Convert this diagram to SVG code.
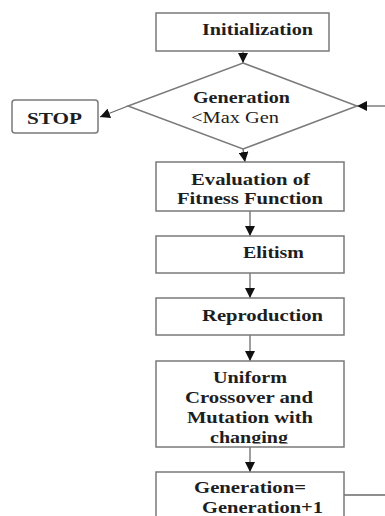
<svg xmlns="http://www.w3.org/2000/svg" width="385" height="516" viewBox="0 0 385 516">
<style>
.box{fill:#fff;stroke:#7a7a7a;stroke-width:1.5}
.ln{fill:none;stroke:#6a6a6a;stroke-width:1.3}
.t{font-family:"Liberation Serif","Times New Roman",serif;font-weight:bold;font-size:16.5px;fill:#1e1e1e}
.r{font-family:"Liberation Serif","Times New Roman",serif;font-size:16.5px;fill:#1e1e1e}
</style>
<defs>
<marker id="ah" viewBox="0 0 10 10" refX="10" refY="5" markerWidth="10" markerHeight="10" markerUnits="userSpaceOnUse" orient="auto">
<path d="M0,0 L10,5 L0,10 Z" fill="#111"/>
</marker>
<clipPath id="cc"><rect x="150" y="360" width="200" height="83.5"/></clipPath>
</defs>
<g id="connectors">
<line class="ln" x1="243" y1="51" x2="243" y2="63" marker-end="url(#ah)"/>
<line class="ln" x1="128" y1="106" x2="100" y2="117" marker-end="url(#ah)"/>
<line class="ln" x1="385" y1="106" x2="357" y2="106" marker-end="url(#ah)"/>
<line class="ln" x1="243" y1="149" x2="245" y2="162" marker-end="url(#ah)"/>
<line class="ln" x1="250" y1="211" x2="250" y2="236" marker-end="url(#ah)"/>
<line class="ln" x1="250" y1="273" x2="250" y2="298" marker-end="url(#ah)"/>
<line class="ln" x1="250" y1="335" x2="250" y2="361" marker-end="url(#ah)"/>
<line class="ln" x1="250" y1="447" x2="250" y2="472" marker-end="url(#ah)"/>
<line class="ln" x1="344" y1="495" x2="385" y2="495"/>
</g>
<g id="init">
<rect class="box" x="156" y="13" width="173" height="38"/>
<text class="t" x="202" y="35" font-size="17" textLength="111" lengthAdjust="spacingAndGlyphs">Initialization</text>
</g>
<g id="decision">
<polygon class="box" points="243,63 357,106 243,149 128,106"/>
<text class="t" x="193" y="103" font-size="15.5" textLength="97" lengthAdjust="spacingAndGlyphs">Generation</text>
<text class="r" x="191" y="123" font-size="16" textLength="88" lengthAdjust="spacingAndGlyphs">&lt;Max Gen</text>
</g>
<g id="stop">
<rect class="box" x="12" y="100" width="86" height="33" rx="3"/>
<text class="t" x="27" y="124" font-size="17" textLength="55" lengthAdjust="spacingAndGlyphs">STOP</text>
</g>
<g id="eval">
<rect class="box" x="156" y="162" width="188" height="49"/>
<text class="t" x="191" y="185" textLength="119" lengthAdjust="spacingAndGlyphs">Evaluation of</text>
<text class="t" x="177" y="204" textLength="146" lengthAdjust="spacingAndGlyphs">Fitness Function</text>
</g>
<g id="elitism">
<rect class="box" x="156" y="236" width="188" height="37"/>
<text class="t" x="243" y="258" textLength="61" lengthAdjust="spacingAndGlyphs">Elitism</text>
</g>
<g id="repro">
<rect class="box" x="156" y="298" width="188" height="37"/>
<text class="t" x="202" y="321" textLength="121" lengthAdjust="spacingAndGlyphs">Reproduction</text>
</g>
<g id="crossover">
<rect class="box" x="156" y="361" width="188" height="86"/>
<text class="t" x="213" y="383" textLength="74" lengthAdjust="spacingAndGlyphs">Uniform</text>
<text class="t" x="185" y="403" textLength="128" lengthAdjust="spacingAndGlyphs">Crossover and</text>
<text class="t" x="187" y="423" textLength="126" lengthAdjust="spacingAndGlyphs">Mutation with</text>
<text class="t" x="210" y="443" textLength="78" lengthAdjust="spacingAndGlyphs" clip-path="url(#cc)">changing</text>
</g>
<g id="increment">
<rect class="box" x="156" y="472" width="188" height="60"/>
<text class="t" x="194" y="493" textLength="112" lengthAdjust="spacingAndGlyphs">Generation=</text>
<text class="t" x="202" y="512.5" textLength="121" lengthAdjust="spacingAndGlyphs">Generation+1</text>
</g>
</svg>
